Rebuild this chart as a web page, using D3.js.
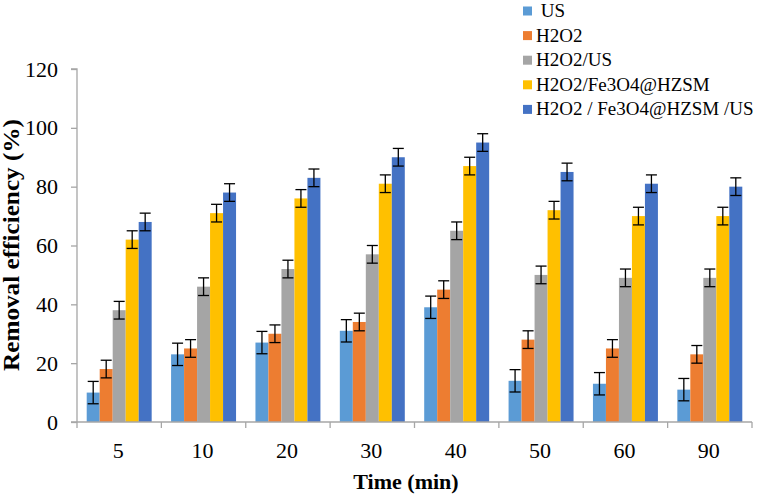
<!DOCTYPE html>
<html><head><meta charset="utf-8">
<script src="https://cdn.jsdelivr.net/npm/d3@7"></script>
<style>body{margin:0;background:#fff}svg{display:block}text{font-family:"Liberation Serif","Times New Roman",serif}</style>
</head><body><svg id="c" width="757" height="497"></svg>
<script>
const categories = ["5","10","20","30","40","50","60","90"];
const seriesNames = ["US","H2O2","H2O2/US","H2O2/Fe3O4@HZSM","H2O2 / Fe3O4@HZSM /US"];
const legendLabels = [" US","H2O2","H2O2/US","H2O2/Fe3O4@HZSM","H2O2 / Fe3O4@HZSM /US"];
const colors = ["#5B9BD5","#ED7D31","#A5A5A5","#FFC000","#4472C4"];
const US = [10,23,27,31,39,14,13,11];
const H2O2 = [18,25,30,34,45,28,25,23];
const H2O2_US = [38,46,52,57,65,50,49,49];
const H2O2_Fe = [62,71,76,81,87,72,70,70];
const H2O2_Fe_US = [68,78,83,90,95,85,81,80];
const errors = [3.8,3,3,3,3];
const yTicks = [0,20,40,60,80,100,120];

const values = [US,H2O2,H2O2_US,H2O2_Fe,H2O2_Fe_US];
const svg = d3.select("#c");
const L=77, R=752, T=69, B=422;
const y = d3.scaleLinear().domain([0,120]).range([B,T]);
const x0 = d3.scaleBand().domain(categories).range([L,R]).paddingInner(0.23).paddingOuter(0.115);
const x1 = d3.scaleBand().domain(d3.range(5)).range([0,x0.bandwidth()]);
const axisColor="#A6A6A6";

// bars
categories.forEach((c,i)=>{
  const g = svg.append("g").attr("transform",`translate(${x0(c)},0)`);
  values.forEach((vals,s)=>{
    g.append("rect").attr("x",x1(s)).attr("y",y(vals[i])).attr("width",x1.bandwidth()).attr("height",y(0)-y(vals[i])).attr("fill",colors[s]);
  });
  values.forEach((vals,s)=>{
    const cx = x1(s)+x1.bandwidth()/2, e=errors[s], hw=5.5;
    g.append("line").attr("x1",cx).attr("x2",cx).attr("y1",y(vals[i]+e)).attr("y2",y(vals[i]-e)).attr("stroke","#000").attr("stroke-width",1.3);
    [vals[i]+e, vals[i]-e].forEach(v=>g.append("line").attr("x1",cx-hw).attr("x2",cx+hw).attr("y1",y(v)).attr("y2",y(v)).attr("stroke","#000").attr("stroke-width",1.3));
  });
});

// y axis
const ya = svg.append("g").attr("transform",`translate(${L},0)`).call(d3.axisLeft(y).tickValues(yTicks).tickSize(6).tickPadding(13));
ya.select(".domain").attr("stroke",axisColor).attr("stroke-width",1.3).attr("d",`M-6,${T}H0V${B}`);
ya.selectAll(".tick line").attr("stroke",axisColor).attr("stroke-width",1.3);
ya.selectAll(".tick text").attr("font-size",22).attr("fill","#000").style("font-family","Liberation Serif");

// x axis
const xa = svg.append("g").attr("transform",`translate(0,${B})`);
xa.append("line").attr("x1",L-6).attr("x2",R).attr("y1",0).attr("y2",0).attr("stroke",axisColor).attr("stroke-width",1.3);
const bounds = categories.map(c=>x0(c)-x0.step()*x0.paddingOuter()).concat([R]);
xa.selectAll(".xt").data(bounds).join("line").attr("x1",d=>d).attr("x2",d=>d).attr("y1",0).attr("y2",6).attr("stroke",axisColor).attr("stroke-width",1.3);
xa.selectAll(".xl").data(categories).join("text").attr("x",d=>x0(d)+x0.bandwidth()/2-1).attr("y",36).attr("text-anchor","middle").attr("font-size",22).text(d=>d);

// titles
svg.append("text").attr("x",406).attr("y",489).attr("text-anchor","middle").attr("font-size",22).attr("font-weight","bold").text("Time (min)");
svg.append("text").attr("transform",`translate(19,245) rotate(-90)`).attr("text-anchor","middle").attr("font-size",23).attr("font-weight","bold")
  .attr("textLength",252).attr("lengthAdjust","spacingAndGlyphs").text("Removal efficiency (%)");

// legend
const lg = svg.append("g").attr("transform","translate(523,0)");
legendLabels.forEach((l,i)=>{
  const cy = 11+i*24.6;
  lg.append("rect").attr("x",0).attr("y",cy-4.5).attr("width",9).attr("height",9).attr("fill",colors[i]);
  lg.append("text").attr("x",13).attr("y",cy+6).attr("font-size",19).attr("xml:space","preserve").style("white-space","pre").text(l);
});
</script></body></html>
